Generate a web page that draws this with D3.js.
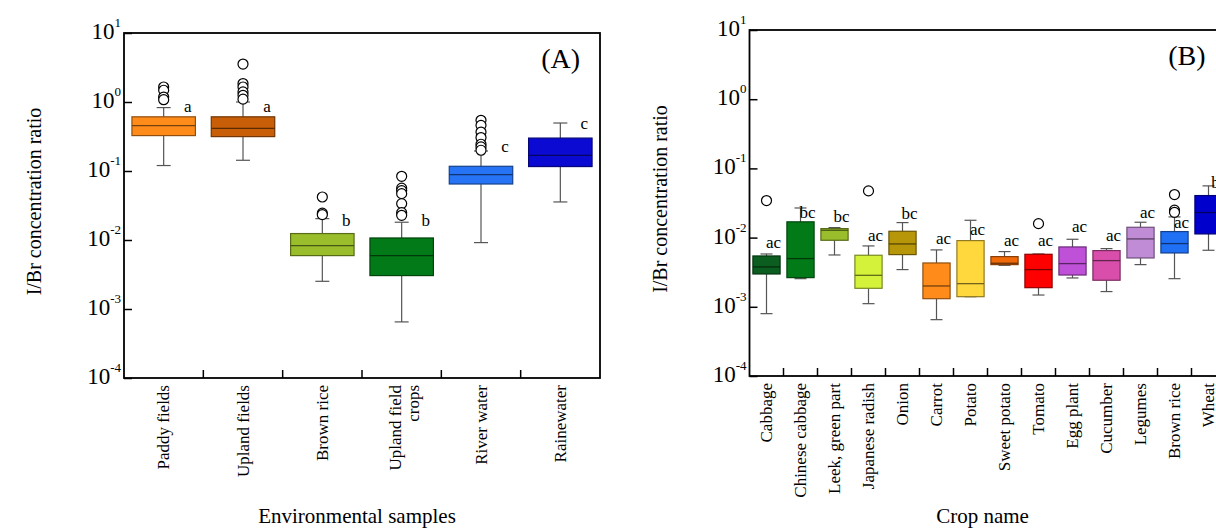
<!DOCTYPE html>
<meta charset="utf-8">
<title>I/Br concentration ratio</title>
<style>
  body { margin: 0; background: #fff; }
  svg { display: block; font-family: "Liberation Serif", "Times New Roman", serif; }
</style>
<body>
<script src="https://d3js.org/d3.v7.min.js"></script>
<script>
// ---- panel A : environmental samples ----
const catsA = ["Paddy fields", "Upland fields", "Brown rice", "Upland field\ncrops", "River water", "Rainewater"];
const lowA  = [0.12, 0.143, 0.00252, 0.00065, 0.00917, 0.0356];
const q1A   = [0.326, 0.315, 0.00594, 0.00305, 0.0648, 0.116];
const medA  = [0.455, 0.415, 0.0083, 0.00594, 0.0887, 0.169];
const q3A   = [0.61, 0.61, 0.0124, 0.0107, 0.117, 0.30];
const highA = [0.83, 1.0, 0.0204, 0.0181, 0.195, 0.496];
const outA  = [[1.65, 1.48, 1.18, 1.08], [3.55, 1.85, 1.65, 1.4, 1.25, 1.1], [0.042, 0.0245, 0.0233],
               [0.0838, 0.0564, 0.052, 0.047, 0.0337, 0.0249, 0.0228],
               [0.543, 0.459, 0.367, 0.305, 0.244, 0.223, 0.2], []];
const lettersA  = ["a", "a", "b", "b", "c", "c"];
const letterAtA = [0.838, 0.838, 0.0187, 0.0187, 0.22, 0.475];
const colorsA = ["#ff8c1a", "#c85e08", "#9abd2b", "#027a17", "#2673f5", "#0a0ad2"];

// ---- panel B : crops ----
const catsB = ["Cabbage", "Chinese cabbage", "Leek, green part", "Japanese radish", "Onion", "Carrot", "Potato",
               "Sweet potato", "Tomato", "Egg plant", "Cucumber", "Legumes", "Brown rice", "Wheat"];
const lowB  = [0.000796, 0.00255, 0.00561, 0.00111, 0.00345, 0.000652, 0.0014, 0.00398, 0.00148, 0.00261, 0.00166, 0.00407, 0.00255, 0.00656];
const q1B   = [0.00298, 0.00264, 0.00915, 0.00185, 0.00568, 0.00131, 0.0014, 0.00407, 0.00189, 0.00288, 0.00242, 0.00508, 0.006, 0.0113];
const medB  = [0.00377, 0.00497, 0.01277, 0.00285, 0.0081, 0.002, 0.00216, 0.00426, 0.00345, 0.00421, 0.00465, 0.00957, 0.00819, 0.023];
const q3B   = [0.00543, 0.0169, 0.01349, 0.00556, 0.01235, 0.0043, 0.00905, 0.00531, 0.00574, 0.00733, 0.00649, 0.0141, 0.01222, 0.0405];
const highB = [0.0058, 0.0268, 0.01395, 0.00758, 0.01648, 0.00664, 0.0178, 0.00628, 0.0058, 0.00946, 0.00693, 0.01667, 0.0199, 0.0559];
const outB  = [[0.0343], [], [], [0.0473], [], [], [], [], [0.0159], [], [], [], [0.0419, 0.0249, 0.0232], []];
const lettersB  = ["ac", "bc", "bc", "ac", "bc", "ac", "ac", "ac", "ac", "ac", "ac", "ac", "ac", "b"];
const letterAtB = [0.0083, 0.0227, 0.0197, 0.0106, 0.0218, 0.0095, 0.0128, 0.00887, 0.00887, 0.0141, 0.0106, 0.0227, 0.0162, 0.0611];
const colorsB = ["#0b5e1f", "#027a17", "#9abd2b", "#d4f23a", "#b8960a", "#ff8c1a", "#ffd83d",
                 "#f06a0a", "#ff0000", "#bf50d8", "#d94eab", "#c08cd6", "#2070f5", "#0000cc"];

const decades = [1e1, 1e0, 1e-1, 1e-2, 1e-3, 1e-4];

const svg = d3.select("body").append("svg").attr("width", 1216).attr("height", 529);

function panel(o) {
  const g = svg.append("g");
  const x = d3.scaleBand().domain(o.cats).range([o.left, o.right]);
  const y = d3.scaleLog().domain([1e-4, 1e1]).range([o.bottom, o.top]);
  const bw = x.bandwidth() * 0.8;
  const cx = c => x(c) + x.bandwidth() / 2;

  // y axis ticks (inward) via d3 axis
  g.append("g").attr("transform", `translate(${o.left},0)`)
    .call(d3.axisLeft(y).tickValues(decades).tickSize(-8).tickFormat(""))
    .call(a => a.select(".domain").remove())
    .selectAll("line").attr("stroke", "#000").attr("stroke-width", 1.5);

  // tick labels 10^n
  const lab = g.append("g").selectAll("text").data(decades).join("text")
    .attr("x", o.left - 3).attr("y", d => y(d) + 6).attr("text-anchor", "end");
  lab.append("tspan").attr("font-size", 23).text("10");
  lab.append("tspan").attr("font-size", 13).attr("dy", -12).text(d => Math.round(Math.log10(d)));

  // x ticks at band boundaries, pointing up
  g.append("g").selectAll("line").data(o.cats.slice(1)).join("line")
    .attr("x1", d => x(d)).attr("x2", d => x(d))
    .attr("y1", o.bottom).attr("y2", o.bottom - 8)
    .attr("stroke", "#000").attr("stroke-width", 1.5);

  // boxes
  const box = g.append("g").selectAll("g").data(o.cats).join("g");
  box.append("line")
    .attr("x1", cx).attr("x2", cx)
    .attr("y1", (d, i) => y(o.high[i])).attr("y2", (d, i) => y(o.low[i]))
    .attr("stroke", "#555").attr("stroke-width", 1.2);
  ["high", "low"].forEach(k => {
    box.append("line")
      .attr("x1", d => cx(d) - o.cap / 2).attr("x2", d => cx(d) + o.cap / 2)
      .attr("y1", (d, i) => y(o[k][i])).attr("y2", (d, i) => y(o[k][i]))
      .attr("stroke", "#555").attr("stroke-width", 1.2);
  });
  box.append("rect")
    .attr("x", d => cx(d) - bw / 2).attr("width", bw)
    .attr("y", (d, i) => y(o.q3[i]))
    .attr("height", (d, i) => Math.max(1, y(o.q1[i]) - y(o.q3[i])))
    .attr("fill", (d, i) => o.colors[i])
    .attr("stroke", (d, i) => d3.color(o.colors[i]).darker(1.6))
    .attr("stroke-width", 1.2);
  box.append("line")
    .attr("x1", d => cx(d) - bw / 2).attr("x2", d => cx(d) + bw / 2)
    .attr("y1", (d, i) => y(o.med[i])).attr("y2", (d, i) => y(o.med[i]))
    .attr("stroke", (d, i) => d3.color(o.colors[i]).darker(2.2))
    .attr("stroke-width", 1.3);
  box.each(function (d, i) {
    d3.select(this).selectAll("circle").data(o.out[i]).join("circle")
      .attr("cx", cx(d)).attr("cy", v => y(v)).attr("r", 5)
      .attr("fill", "#fff").attr("stroke", "#000").attr("stroke-width", 1.2);
  });
  box.append("text")
    .attr("x", d => cx(d) + o.letterDx).attr("y", (d, i) => y(o.letterAt[i]))
    .attr("dy", "0.3em").attr("text-anchor", "middle").attr("font-size", 17)
    .text((d, i) => o.letters[i]);

  // frame
  g.append("rect").attr("x", o.left).attr("y", o.top)
    .attr("width", o.right - o.left).attr("height", o.bottom - o.top)
    .attr("fill", "none").attr("stroke", "#000").attr("stroke-width", 1.8);

  // category labels, rotated
  const cl = g.append("g").selectAll("text").data(o.cats).join("text")
    .attr("transform", d => `translate(${cx(d)},${o.bottom + 7}) rotate(-90)`)
    .attr("text-anchor", "end").attr("font-size", 17);
  cl.each(function (d) {
    const lines = d.split("\n");
    d3.select(this).selectAll("tspan").data(lines).join("tspan")
      .attr("x", 0).attr("y", (t, j) => (j - (lines.length - 1) / 2) * 18 + 5.6 + (lines.length - 1) * 3)
      .text(t => t);
  });

  // panel tag
  g.append("text").attr("x", o.right - 20).attr("y", o.top + 35)
    .attr("text-anchor", "end").attr("font-size", 28).text(o.tag);

  // axis titles
  g.append("text").attr("x", (o.left + o.right) / 2 - 5).attr("y", 523)
    .attr("text-anchor", "middle").attr("font-size", 21).text(o.xTitle);
  g.append("text")
    .attr("transform", `translate(${o.left - 90},${(o.top + o.bottom) / 2 - 4}) rotate(-90)`)
    .attr("dy", "0.35em").attr("text-anchor", "middle").attr("font-size", 20)
    .text("I/Br concentration ratio");
}

panel({
  cats: catsA, low: lowA, q1: q1A, med: medA, q3: q3A, high: highA, out: outA,
  letters: lettersA, letterAt: letterAtA, colors: colorsA,
  left: 124, right: 600, top: 33, bottom: 378, cap: 14, letterDx: 24,
  tag: "(A)", xTitle: "Environmental samples"
});

panel({
  cats: catsB, low: lowB, q1: q1B, med: medB, q3: q3B, high: highB, out: outB,
  letters: lettersB, letterAt: letterAtB, colors: colorsB,
  left: 749.5, right: 1225.5, top: 30, bottom: 376, cap: 12, letterDx: 7,
  tag: "(B)", xTitle: "Crop name"
});
</script>
</body>
